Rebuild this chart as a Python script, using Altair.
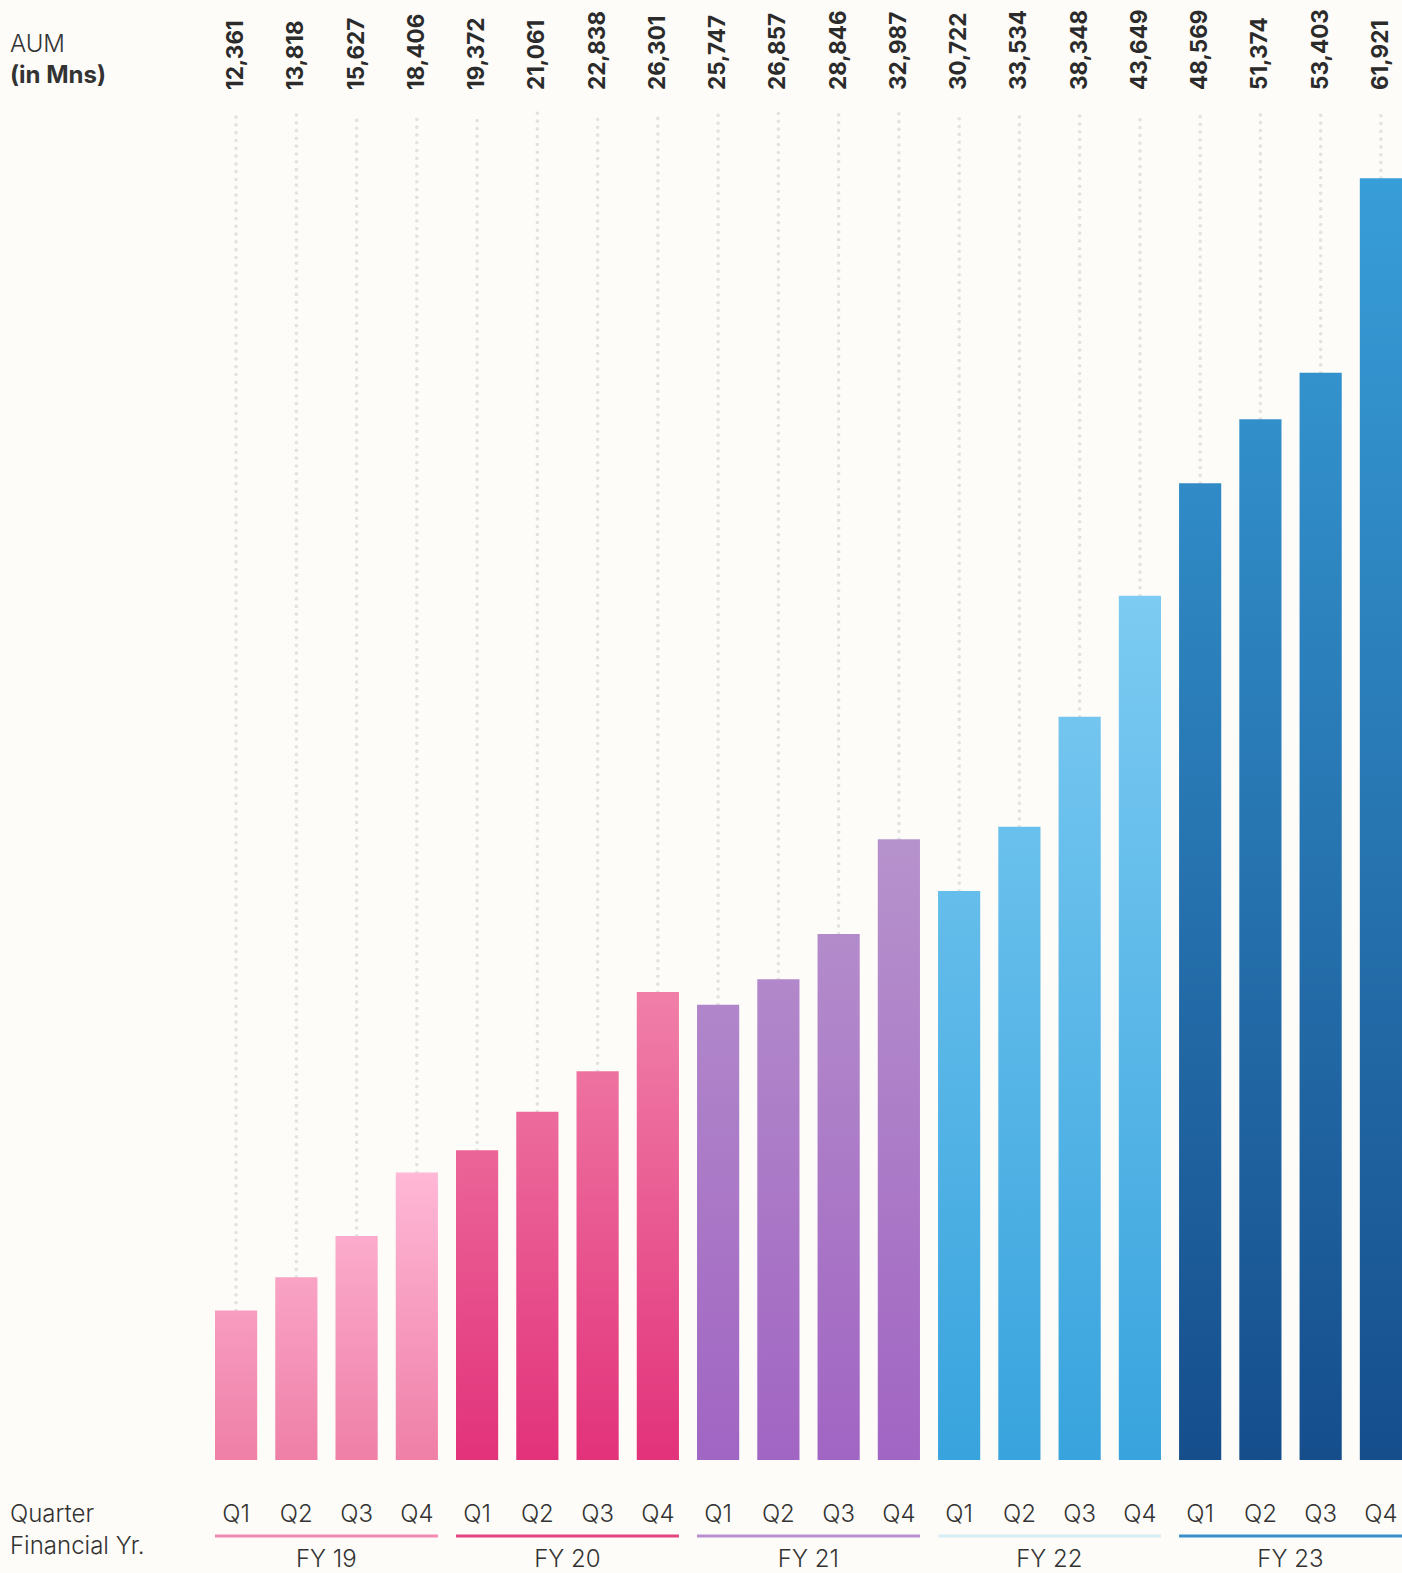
import altair as alt
import pandas as pd

# ---- data ----
years = ["FY 19", "FY 20", "FY 21", "FY 22", "FY 23"]
quarters = ["Q1", "Q2", "Q3", "Q4"]
aum = [12361, 13818, 15627, 18406,
       19372, 21061, 22838, 26301,
       25747, 26857, 28846, 32987,
       30722, 33534, 38348, 43649,
       48569, 51374, 53403, 61921]

grad_top = ["#ffb8d6", "#f07fa8", "#b692cc", "#7ccbf2", "#389ed8"]
grad_bottom = ["#ef7fa7", "#e2327a", "#a165c3", "#38a3dd", "#164e8c"]
line_colors = ["#f28bb2", "#e2457e", "#b88fd0", "#d9edf8", "#3a90c9"]

W, H = 1187, 1347
YMIN, YMAX = 5819, 64774

records = []
for yi, y in enumerate(years):
    gvals = aum[yi * 4:(yi + 1) * 4]
    gmax = max(gvals) - YMIN
    for qi, q in enumerate(quarters):
        v = aum[yi * 4 + qi]
        frac = (v - YMIN) / gmax
        # one gradient per year group, spanning the tallest bar of the group
        grad = {"gradient": "linear", "x1": 0, "x2": 0,
                "y1": 1 - 1 / frac, "y2": 1,
                "stops": [{"offset": 0, "color": grad_top[yi]},
                          {"offset": 1, "color": grad_bottom[yi]}]}
        records.append({"idx": f"{y} {q}", "year": y, "quarter": q,
                        "value": v, "grad": grad})
order = [r["idx"] for r in records]
plain = [{k: r[k] for k in ("idx", "year", "quarter", "value")} for r in records]

grp = pd.DataFrame({
    "year": years,
    "first": [f"{y} Q1" for y in years],
    "last": [f"{y} Q4" for y in years],
    "mid": [f"{y} Q2" for y in years],
})

xs = alt.Scale(domain=order, paddingInner=0.3, paddingOuter=0)
ys = alt.Scale(domain=[YMIN, YMAX], zero=False, nice=False)
BG = "#fdfcf8"
TXT = "#333333"
FONT = "Inter"

base = alt.Chart(alt.Data(values=plain))

dots = base.mark_rule(strokeDash=[0.1, 7.7], strokeCap="round",
                      strokeWidth=3.6, color="#e2e2e2").encode(
    x=alt.X("idx:N", scale=xs, axis=None, sort=order),
    y=alt.Y("value:Q", scale=ys, axis=None),
    y2=alt.value(0),
)

bars = alt.Chart(alt.Data(values=records)).mark_bar().encode(
    x=alt.X("idx:N", scale=xs, axis=None, sort=order),
    y=alt.Y("value:Q", scale=ys, axis=None),
    y2=alt.Y2(datum=YMIN),
    color=alt.Color("grad:N", scale=None, legend=None),
)

vals = base.mark_text(angle=270, align="left", baseline="middle",
                      font=FONT, fontWeight="bold",
                      fontSize=22.5, color="#2b2b2b").encode(
    x=alt.X("idx:N", scale=xs, axis=None, sort=order),
    y=alt.value(-23),
    text=alt.Text("value:Q", format=","),
)

qlab = base.mark_text(font=FONT, fontSize=24, fontWeight=300, color=TXT,
                      baseline="middle").encode(
    x=alt.X("idx:N", scale=xs, axis=None, sort=order),
    y=alt.value(H + 55),
    text="quarter:N",
)

gbase = alt.Chart(grp)
ulines = gbase.mark_rule(strokeWidth=3).encode(
    x=alt.X("first:N", scale=xs, axis=None, bandPosition=0),
    x2=alt.X2("last:N", bandPosition=1),
    y=alt.value(H + 76),
    color=alt.Color("year:N", scale=alt.Scale(domain=years, range=line_colors),
                    legend=None),
)
ylab = gbase.mark_text(font=FONT, fontSize=24, fontWeight=300, color=TXT,
                       baseline="middle", dx=30).encode(
    x=alt.X("mid:N", scale=xs, axis=None),
    y=alt.value(H + 100),
    text="year:N",
)


def label(txt, x, y, weight=300):
    return alt.Chart(pd.DataFrame({"t": [txt]})).mark_text(
        font=FONT, fontSize=24, fontWeight=weight, color=TXT,
        align="left", baseline="middle").encode(
        x=alt.value(x), y=alt.value(y), text="t:N")


side = [
    label("AUM", -205, -68),
    label("(in Mns)", -205, -37, "bold"),
    label("Quarter", -205, H + 55),
    label("Financial Yr.", -205, H + 87),
]

chart = alt.layer(dots, bars, vals, qlab, ulines, ylab, *side).properties(
    width=W, height=H,
    autosize=alt.AutoSizeParams(type="none"),
    padding={"left": 215, "top": 113, "right": 0, "bottom": 113},
    background=BG,
).configure_view(stroke=None)

chart.save("out.html", embed_options={"renderer": "svg", "actions": False})
